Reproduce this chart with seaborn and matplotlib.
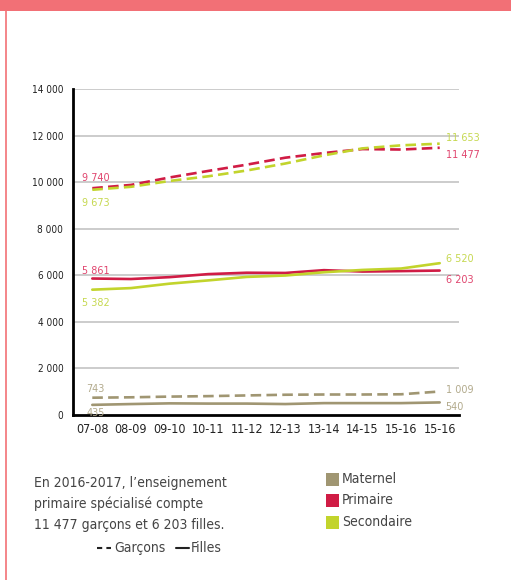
import numpy as np
import pandas as pd
import matplotlib
matplotlib.use("Agg")
import matplotlib.pyplot as plt
from matplotlib.lines import Line2D
from matplotlib.patches import Rectangle
from matplotlib import font_manager
import seaborn as sns

# ---- data ----
categories = ["07-08", "08-09", "09-10", "10-11", "11-12", "12-13", "13-14", "14-15", "15-16", "15-16"]
maternel_garcons = [743, 760, 790, 810, 840, 870, 880, 880, 890, 1009]
maternel_filles = [435, 470, 500, 490, 490, 470, 510, 510, 510, 540]
primaire_garcons = [9740, 9880, 10200, 10480, 10750, 11050, 11250, 11420, 11400, 11477]
primaire_filles = [5861, 5840, 5920, 6050, 6110, 6100, 6220, 6160, 6180, 6203]
secondaire_garcons = [9673, 9800, 10050, 10250, 10500, 10800, 11150, 11450, 11580, 11653]
secondaire_filles = [5382, 5450, 5640, 5780, 5930, 5990, 6130, 6230, 6290, 6520]
niveaux = ["Maternel", "Primaire", "Secondaire"]
sexes = ["Garçons", "Filles"]
yticks = [0, 2000, 4000, 6000, 8000, 10000, 12000, 14000]
ytick_labels = ["0", "2 000", "4 000", "6 000", "8 000", "10 000", "12 000", "14 000"]
note_lines = ["En 2016-2017, l’enseignement", "primaire spécialisé compte", "11 477 garçons et 6 203 filles."]

series = {
    ("Maternel", "Garçons"): maternel_garcons,
    ("Maternel", "Filles"): maternel_filles,
    ("Primaire", "Garçons"): primaire_garcons,
    ("Primaire", "Filles"): primaire_filles,
    ("Secondaire", "Garçons"): secondaire_garcons,
    ("Secondaire", "Filles"): secondaire_filles,
}
rows = []
for (niv, sexe), vals in series.items():
    for i, v in enumerate(vals):
        rows.append({"x": i, "valeur": v, "niveau": niv, "sexe": sexe})
df = pd.DataFrame(rows)

line_colors = {"Maternel": "#a09672", "Primaire": "#d01c45", "Secondaire": "#c2d42c"}
label_colors = {"Maternel": "#b2aa8c", "Primaire": "#e0456e", "Secondaire": "#c6d850"}

sns.set_theme(style="white")
fonts = font_manager.fontManager.ttflist
names = {f.name for f in fonts}
stretch = "normal"
if "Liberation Sans Narrow" in names:
    fam = ["Liberation Sans Narrow", "DejaVu Sans"]
    scale = 1.0
elif any(f.name == "DejaVu Sans" and f.stretch == "condensed" for f in fonts):
    fam = ["DejaVu Sans"]
    stretch = "condensed"
    scale = 0.95
else:
    fam = ["Open Sans", "DejaVu Sans"]
    scale = 0.88
plt.rcParams["font.family"] = fam
plt.rcParams["font.stretch"] = stretch

W, H = 511, 580
fig = plt.figure(figsize=(W / 100, H / 100), dpi=100)
fig.patch.set_facecolor("white")
ax = fig.add_axes([73 / W, 1 - 415 / H, (459 - 73) / W, (415 - 89) / H])

sns.lineplot(data=df, x="x", y="valeur", hue="niveau", style="sexe",
             hue_order=niveaux, style_order=sexes,
             palette=line_colors, dashes={"Garçons": (4, 2), "Filles": ""},
             linewidth=1.9, legend=False, ax=ax, zorder=3)

ax.set_xlim(-0.5, len(categories) - 0.5)
ax.set_ylim(0, 14000)
ax.set_yticks(yticks)
ax.set_yticklabels(ytick_labels)
ax.set_xticks(range(len(categories)))
ax.set_xticklabels(categories)
ax.set_xticks(np.arange(-0.5, len(categories)), minor=True)
ax.tick_params(axis="x", which="major", length=0, pad=6, labelsize=9.5 * scale, labelcolor="#222222")
ax.tick_params(axis="x", which="minor", length=4, width=1.5, color="black", direction="out")
ax.tick_params(axis="y", length=0, pad=7, labelsize=7.6 * scale, labelcolor="#222222")
ax.set_xlabel("")
ax.set_ylabel("")
for y in yticks[1:]:
    ax.axhline(y, color="#c8c8c8", lw=1.3, zorder=1)
for s in ["top", "right"]:
    ax.spines[s].set_visible(False)
for s in ["left", "bottom"]:
    ax.spines[s].set_color("black")
    ax.spines[s].set_linewidth(2)
ax.set_facecolor("white")

# value labels
first_labels = [("Primaire", "Garçons", 10), ("Secondaire", "Garçons", -13),
                ("Primaire", "Filles", 8), ("Secondaire", "Filles", -13),
                ("Maternel", "Garçons", 9), ("Maternel", "Filles", -8)]
def fmt(v):
    return f"{v:,}".replace(",", " ")
lab_fs = 8.2 * scale
for niv, sexe, dy in first_labels:
    v = series[(niv, sexe)][0]
    xoff = -10 if niv != "Maternel" else -6
    ax.annotate(fmt(v), (0, v), xytext=(xoff, dy), textcoords="offset pixels",
                ha="left", va="center", fontsize=lab_fs, color=label_colors[niv], zorder=4)
last_labels = [("Secondaire", "Garçons", 6), ("Primaire", "Garçons", -7),
               ("Secondaire", "Filles", 4), ("Primaire", "Filles", -9),
               ("Maternel", "Garçons", 2), ("Maternel", "Filles", -5)]
n = len(categories) - 1
for niv, sexe, dy in last_labels:
    v = series[(niv, sexe)][-1]
    ax.annotate(fmt(v), (n, v), xytext=(6, dy), textcoords="offset pixels",
                ha="left", va="center", fontsize=lab_fs, color=label_colors[niv], zorder=4)

# frame decorations
fig.add_artist(Rectangle((0, 1 - 11 / H), 1, 11 / H, transform=fig.transFigure,
                         color="#f27076", lw=0))
fig.add_artist(Rectangle((5 / W, 0), 2 / W, 1 - 11 / H, transform=fig.transFigure,
                         color="#f4888c", lw=0))

# note text
text_color = "#444444"
txt_fs = 10.5 * scale
for i, line in enumerate(note_lines):
    fig.text(34 / W, 1 - (483 + i * 21) / H, line, ha="left", va="center",
             fontsize=txt_fs, color=text_color)

# style legend
fig.add_artist(Line2D([97 / W, 111 / W], [1 - 548 / H] * 2, transform=fig.transFigure,
                      color="#222222", lw=1.5, dashes=(2.5, 2)))
fig.text(114 / W, 1 - 548 / H, "Garçons", ha="left", va="center", fontsize=txt_fs, color=text_color)
fig.add_artist(Line2D([176 / W, 189 / W], [1 - 548 / H] * 2, transform=fig.transFigure,
                      color="#222222", lw=1.5))
fig.text(191 / W, 1 - 548 / H, "Filles", ha="left", va="center", fontsize=txt_fs, color=text_color)

# colour legend
for i, niv in enumerate(niveaux):
    yc = 479 + i * 21.5
    fig.add_artist(Rectangle((326 / W, 1 - (yc + 6.5) / H), 13 / W, 13 / H,
                             transform=fig.transFigure, color=line_colors[niv], lw=0))
    fig.text(342 / W, 1 - yc / H, niv, ha="left", va="center", fontsize=txt_fs, color=text_color)

fig.savefig("out.png", dpi=100, facecolor="white")
